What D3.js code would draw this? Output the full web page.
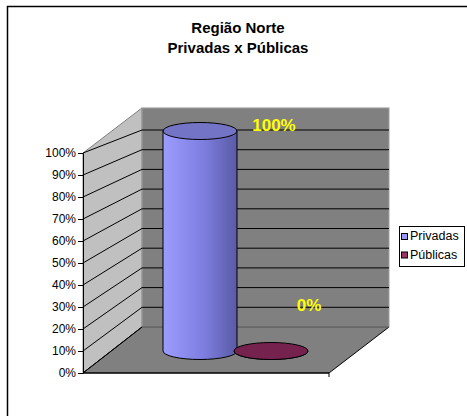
<!DOCTYPE html>
<html>
<head>
<meta charset="utf-8">
<script src="https://cdn.jsdelivr.net/npm/d3@7"></script>
<style>
  html, body { margin: 0; padding: 0; background: #fff; }
  svg { display: block; font-family: "Liberation Sans", Arial, sans-serif; }
</style>
</head>
<body>
<svg id="chart" width="467" height="416"></svg>
<script>
// ---- data ----
const titleLines = ["Região Norte", "Privadas x Públicas"];
const categories = ["Privadas", "Públicas"];
const values = [1.0, 0.0];
const labels = ["100%", "0%"];
const tickValues = [0, 0.1, 0.2, 0.3, 0.4, 0.5, 0.6, 0.7, 0.8, 0.9, 1.0];
const tickLabels = ["0%", "10%", "20%", "30%", "40%", "50%", "60%", "70%", "80%", "90%", "100%"];

// ---- layout ----
const svg = d3.select("#chart");
const defs = svg.append("defs");

// frame
svg.append("rect").attr("x", 7.5).attr("y", 6.5).attr("width", 470).attr("height", 420)
  .attr("fill", "#fff").attr("stroke", "#000").attr("stroke-width", 1.5);

// title
svg.append("g").selectAll("text").data(titleLines).join("text")
  .attr("x", 238).attr("y", (d, i) => 33 + i * 20)
  .attr("text-anchor", "middle").attr("font-weight", "bold").attr("font-size", 15)
  .text(d => d);

// scales: front plane, back plane, mid plane (where cylinders stand)
const frontX0 = 83, frontX1 = 329, backX0 = 142, backX1 = 389;
const yFront = d3.scaleLinear().domain([0, 1]).range([373, 153]);
const yBack = d3.scaleLinear().domain([0, 1]).range([327, 130]);
const yMid = d3.scaleLinear().domain([0, 1]).range([351, 131]);
const xScale = d3.scalePoint().domain(categories).range([200, 271]);
const labelX = d3.scaleLinear().domain([0, 1]).range([309, 274]);
const labelY = d3.scaleLinear().domain([0, 1]).range([311, 131]);

const walls = svg.append("g");
// side wall
walls.append("path")
  .attr("d", `M${frontX0},${yFront(0)} L${frontX0},${yFront(1)} L${backX0},${yBack(1.112)} L${backX0},${yBack(0)} Z`)
  .attr("fill", "#c0c0c0").attr("stroke", "#808080").attr("stroke-width", 1);
// back wall
walls.append("rect")
  .attr("x", backX0).attr("y", yBack(1.112)).attr("width", backX1 - backX0).attr("height", yBack(0) - yBack(1.112))
  .attr("fill", "#808080").attr("stroke", "#a0a0a0").attr("stroke-width", 1);
// floor
walls.append("path")
  .attr("d", `M${frontX0},${yFront(0)} L${frontX1},${yFront(0)} L${backX1},${yBack(0)} L${backX0},${yBack(0)} Z`)
  .attr("fill", "#808080").attr("stroke", "#000").attr("stroke-width", 1);
walls.append("line").attr("x1", backX0).attr("x2", backX1).attr("y1", yBack(0)).attr("y2", yBack(0))
  .attr("stroke", "#909090").attr("stroke-width", 1);

// gridlines
const grid = svg.append("g").attr("stroke", "#000").attr("stroke-width", 1);
grid.selectAll("line.back").data(tickValues.filter(v => v > 0)).join("line")
  .attr("class", "back")
  .attr("x1", backX0).attr("x2", backX1)
  .attr("y1", d => yBack(d)).attr("y2", d => yBack(d));
grid.selectAll("line.side").data(tickValues).join("line")
  .attr("class", "side")
  .attr("x1", frontX0).attr("x2", backX0)
  .attr("y1", d => yFront(d)).attr("y2", d => yBack(d));

// y axis
const axis = d3.axisLeft(yFront).tickValues(tickValues)
  .tickFormat((d, i) => tickLabels[i]).tickSize(5).tickPadding(2);
const ag = svg.append("g").attr("transform", `translate(${frontX0},0)`).call(axis);
ag.select(".domain").attr("stroke", "#000");
ag.selectAll("line").attr("stroke", "#000");
ag.selectAll("text").attr("font-size", 12).attr("font-family", "Liberation Sans, Arial, sans-serif").attr("fill", "#000");
// bottom edge + ticks
svg.append("line").attr("x1", frontX0).attr("x2", frontX1).attr("y1", yFront(0)).attr("y2", yFront(0)).attr("stroke", "#000");
svg.append("line").attr("x1", frontX1).attr("x2", frontX1).attr("y1", yFront(0)).attr("y2", yFront(0) + 4).attr("stroke", "#000");

// cylinder gradients
const grad = defs.append("linearGradient").attr("id", "gPriv").attr("x1", "0").attr("x2", "1").attr("y1", "0").attr("y2", "0");
grad.append("stop").attr("offset", "0%").attr("stop-color", "#9c9cff");
grad.append("stop").attr("offset", "55%").attr("stop-color", "#7e7ee0");
grad.append("stop").attr("offset", "100%").attr("stop-color", "#5a5aa6");
const grad2 = defs.append("linearGradient").attr("id", "gPub").attr("x1", "0").attr("x2", "1").attr("y1", "0").attr("y2", "0");
grad2.append("stop").attr("offset", "0%").attr("stop-color", "#993366");
grad2.append("stop").attr("offset", "100%").attr("stop-color", "#5e1a3c");

const bodyFill = ["url(#gPriv)", "url(#gPub)"];
const topFill = ["#7474c6", "#75224f"];
const rx = 37, ry = 8.5;
const data = categories.map((c, i) => ({ c, v: values[i], i }));

const cyl = svg.append("g").selectAll("g").data(data).join("g");
cyl.append("path")
  .attr("d", d => {
    const cx = xScale(d.c), yb = yMid(0), yt = yMid(d.v);
    return `M${cx - rx},${yt} L${cx - rx},${yb} A${rx},${ry} 0 0 0 ${cx + rx},${yb} L${cx + rx},${yt} Z`;
  })
  .attr("fill", d => bodyFill[d.i]).attr("stroke", "#000").attr("stroke-width", 1);
cyl.append("ellipse")
  .attr("cx", d => xScale(d.c)).attr("cy", d => yMid(d.v))
  .attr("rx", rx).attr("ry", ry)
  .attr("fill", d => topFill[d.i]).attr("stroke", "#000").attr("stroke-width", 1);

// data labels
svg.append("g").selectAll("text").data(data).join("text")
  .attr("x", d => labelX(d.v)).attr("y", d => labelY(d.v))
  .attr("text-anchor", "middle").attr("font-weight", "bold").attr("font-size", 17)
  .attr("fill", "#ffff00").text((d, i) => labels[i]);

// legend
const lg = svg.append("g");
lg.append("rect").attr("x", 399.5).attr("y", 226.5).attr("width", 65).attr("height", 40)
  .attr("fill", "#fff").attr("stroke", "#000");
const li = lg.selectAll("g").data(data).join("g")
  .attr("transform", (d, i) => `translate(401, ${236 + i * 18.5})`);
li.append("rect").attr("x", 0.5).attr("y", -2.5).attr("width", 6).attr("height", 6)
  .attr("fill", d => d.i === 0 ? "#9999ff" : "#993366").attr("stroke", "#000");
li.append("text").attr("x", 9).attr("y", 4).attr("font-size", 12.5).text(d => d.c);
</script>
</body>
</html>
